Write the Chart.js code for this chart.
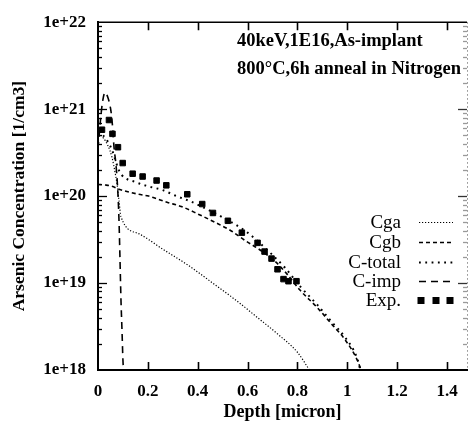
<!DOCTYPE html>
<html><head><meta charset="utf-8">
<script src="https://cdn.jsdelivr.net/npm/chart.js@4.4.0/dist/chart.umd.min.js"></script>
<style>html,body{margin:0;padding:0;background:#fff;overflow:hidden}</style>
</head><body>
<canvas id="c" width="472" height="424" style="width:472px;height:424px;display:block"></canvas>
<script>
// ---- data ----
const xTicks = [0, 0.2, 0.4, 0.6, 0.8, 1, 1.2, 1.4];
const xTickLabels = ['0', '0.2', '0.4', '0.6', '0.8', '1', '1.2', '1.4'];
const yTicks = [1e18, 1e19, 1e20, 1e21, 1e22];
const yTickLabels = ['1e+18', '1e+19', '1e+20', '1e+21', '1e+22'];

const cgaX = [0, 0.02, 0.04, 0.056, 0.068, 0.076, 0.084, 0.092, 0.163, 0.26, 0.362, 0.46, 0.561, 0.64, 0.72, 0.8, 0.848];
const cgaY = [5.2e20, 4.7e20, 3.8e20, 2.8e20, 1.9e20, 1.4e20, 9e19, 5.8e19, 3.7e19, 2.45e19, 1.6e19, 1.0e19, 6.1e18, 4.0e18, 2.6e18, 1.6e18, 1e18];

const cgbX = [0, 0.03, 0.056, 0.084, 0.163, 0.203, 0.282, 0.334, 0.402, 0.469, 0.533, 0.589, 0.65, 0.708, 0.76, 0.81, 0.88, 0.94, 0.99, 1.04, 1.055];
const cgbY = [1.36e20, 1.34e20, 1.3e20, 1.2e20, 1.05e20, 1.0e20, 8.4e19, 7.6e19, 6.2e19, 5.0e19, 4.0e19, 3.1e19, 2.4e19, 1.8e19, 1.25e19, 8.3e18, 5.2e18, 3.3e18, 2.25e18, 1.3e18, 1e18];

const ctotX = [0, 0.02, 0.04, 0.056, 0.068, 0.08, 0.095, 0.15, 0.2, 0.26, 0.315, 0.375, 0.44, 0.5, 0.6, 0.7, 0.75, 0.81, 0.88, 0.94, 0.99, 1.04, 1.052];
const ctotY = [5.5e20, 5.0e20, 4.2e20, 3.4e20, 2.7e20, 2.1e20, 1.75e20, 1.45e20, 1.3e20, 1.17e20, 1.0e20, 8.6e19, 7.0e19, 5.7e19, 3.8e19, 2.1e19, 1.5e19, 9.2e18, 5.6e18, 3.5e18, 2.4e18, 1.35e18, 1e18];

const cimpX = [0, 0.01, 0.018, 0.028, 0.04, 0.052, 0.058, 0.064, 0.072, 0.078, 0.084, 0.088, 0.092, 0.096, 0.1, 0.102];
const cimpY = [3.5e20, 7.5e20, 1.2e21, 1.55e21, 1.35e21, 9.5e20, 6.5e20, 3.7e20, 2.3e20, 1.35e20, 5.5e19, 2e19, 6.6e18, 3e18, 1.3e18, 1e18];

const expX = [0.016, 0.044, 0.058, 0.080, 0.099, 0.139, 0.179, 0.235, 0.274, 0.358, 0.418, 0.461, 0.521, 0.577, 0.640, 0.668, 0.696, 0.720, 0.744, 0.764, 0.796];
const expY = [5.8e20, 7.5e20, 5.2e20, 3.65e20, 2.4e20, 1.81e20, 1.68e20, 1.51e20, 1.33e20, 1.05e20, 8.1e19, 6.4e19, 5.2e19, 3.8e19, 2.9e19, 2.3e19, 1.91e19, 1.44e19, 1.11e19, 1.05e19, 1.05e19];

const seriesNames = ['Cga', 'Cgb', 'C-total', 'C-imp', 'Exp.'];
const noteLines = ['40keV,1E16,As-implant', '800\u00B0C,6h anneal in Nitrogen'];

// ---- helpers ----
const SERIF = '"Liberation Serif","Times New Roman",serif';
const pts = (xs, ys) => xs.map((v, i) => ({x: v, y: ys[i]}));
const lineDs = (label, xs, ys, dash, w) => ({
  label, data: pts(xs, ys), showLine: true, pointRadius: 0, borderColor: '#000',
  borderWidth: w, borderDash: dash, fill: false, cubicInterpolationMode: 'monotone', borderCapStyle: 'butt'
});

const datasets = [
  lineDs(seriesNames[0], cgaX, cgaY, [1.2, 1.8], 1.2),
  lineDs(seriesNames[1], cgbX, cgbY, [4, 3], 1.6),
  lineDs(seriesNames[2], ctotX, ctotY, [1.8, 4.5], 2),
  lineDs(seriesNames[3], cimpX, cimpY, [7, 5], 1.6),
  {label: seriesNames[4], data: pts(expX, expY), showLine: false, pointStyle: 'rect',
   pointRadius: 3.9, backgroundColor: '#000', borderColor: '#000', borderWidth: 1}
];

const framePlugin = {
  id: 'frame',
  afterDatasetsDraw(chart) {
    const {ctx, chartArea: a, scales: {x, y}} = chart;
    ctx.save();
    ctx.strokeStyle = '#000';
    ctx.lineWidth = 1.6;
    ctx.setLineDash([]);
    ctx.beginPath(); ctx.moveTo(a.left, a.top); ctx.lineTo(a.right, a.top); ctx.stroke();
    xTicks.forEach(v => {
      if (v === 0) return;
      const px = Math.round(x.getPixelForValue(v)) + 0.5;
      ctx.beginPath();
      ctx.moveTo(px, a.bottom); ctx.lineTo(px, a.bottom - 8);
      ctx.moveTo(px, a.top); ctx.lineTo(px, a.top + 8);
      ctx.stroke();
    });
    ctx.lineWidth = 1.3;
    for (let e = 18; e < 22; e++) {
      for (let m = 1; m < 10; m++) {
        if (e === 18 && m === 1) continue;
        const py = Math.round(y.getPixelForValue(m * Math.pow(10, e))) + 0.5;
        const len = m === 1 ? 9 : 4;
        ctx.strokeStyle = '#000';
        ctx.beginPath(); ctx.moveTo(a.left, py); ctx.lineTo(a.left + len, py); ctx.stroke();
        ctx.strokeStyle = m === 1 ? '#333' : '#999';
        ctx.beginPath(); ctx.moveTo(a.right, py); ctx.lineTo(a.right - len, py); ctx.stroke();
      }
    }
    ctx.strokeStyle = '#888';
    ctx.lineWidth = 1;
    ctx.setLineDash([1.5, 2.5]);
    ctx.beginPath(); ctx.moveTo(a.right + 0.5, a.top); ctx.lineTo(a.right + 0.5, a.bottom); ctx.stroke();
    ctx.restore();
  },
  afterDraw(chart) {
    const {ctx} = chart;
    ctx.save();
    // annotation
    ctx.fillStyle = '#000';
    ctx.font = 'bold 18.5px ' + SERIF;
    ctx.textAlign = 'left';
    ctx.textBaseline = 'middle';
    ctx.fillText(noteLines[0], 237, 41);
    ctx.fillText(noteLines[1], 237, 69);
    // legend
    const rows = [222, 242, 262, 281, 300];
    ctx.font = '19px ' + SERIF;
    ctx.textAlign = 'right';
    chart.data.datasets.forEach((ds, i) => {
      const yy = rows[i];
      ctx.fillStyle = '#000';
      ctx.fillText(ds.label, 401, yy + 1);
      if (ds.showLine) {
        ctx.strokeStyle = '#000';
        ctx.lineWidth = ds.borderWidth;
        ctx.setLineDash(ds.borderDash);
        ctx.beginPath(); ctx.moveTo(419, yy + 0.5); ctx.lineTo(453, yy + 0.5); ctx.stroke();
      } else {
        ctx.setLineDash([]);
        [421, 436, 450].forEach(cx => ctx.fillRect(cx - 3.5, yy - 3, 7, 7));
      }
    });
    ctx.restore();
  }
};

new Chart(document.getElementById('c'), {
  type: 'scatter',
  data: {datasets},
  options: {
    responsive: false,
    animation: false,
    devicePixelRatio: 1,
    layout: {padding: {top: 14, right: 2, left: 0, bottom: 0}},
    plugins: {legend: {display: false}, tooltip: {enabled: false}},
    scales: {
      x: {
        type: 'linear', min: 0, max: 1.48,
        afterBuildTicks: s => { s.ticks = xTicks.map(v => ({value: v})); },
        afterFit: s => { s.height = 54; },
        ticks: {color: '#000', font: {family: SERIF, size: 17, weight: 'bold'}, padding: 11, maxRotation: 0,
                callback: (v, i) => xTickLabels[i]},
        grid: {display: false, drawTicks: false},
        border: {display: true, color: '#000', width: 2},
        title: {display: true, text: 'Depth [micron]', color: '#000',
                font: {family: SERIF, size: 18, weight: 'bold'}, padding: {top: 0, bottom: 1}}
      },
      y: {
        type: 'logarithmic', min: 1e18, max: 1e22,
        afterBuildTicks: s => { s.ticks = yTicks.map(v => ({value: v})); },
        afterFit: s => { s.width = 98; },
        ticks: {color: '#000', font: {family: SERIF, size: 17, weight: 'bold'}, padding: 12,
                callback: (v, i) => yTickLabels[i]},
        grid: {display: false, drawTicks: false},
        border: {display: true, color: '#000', width: 2},
        title: {display: true, text: 'Arsenic Concentration [1/cm3]', color: '#000',
                font: {family: SERIF, size: 17.5, weight: 'bold'}, padding: {top: 9, bottom: 0}}
      }
    }
  },
  plugins: [framePlugin]
});
</script>
</body></html>
